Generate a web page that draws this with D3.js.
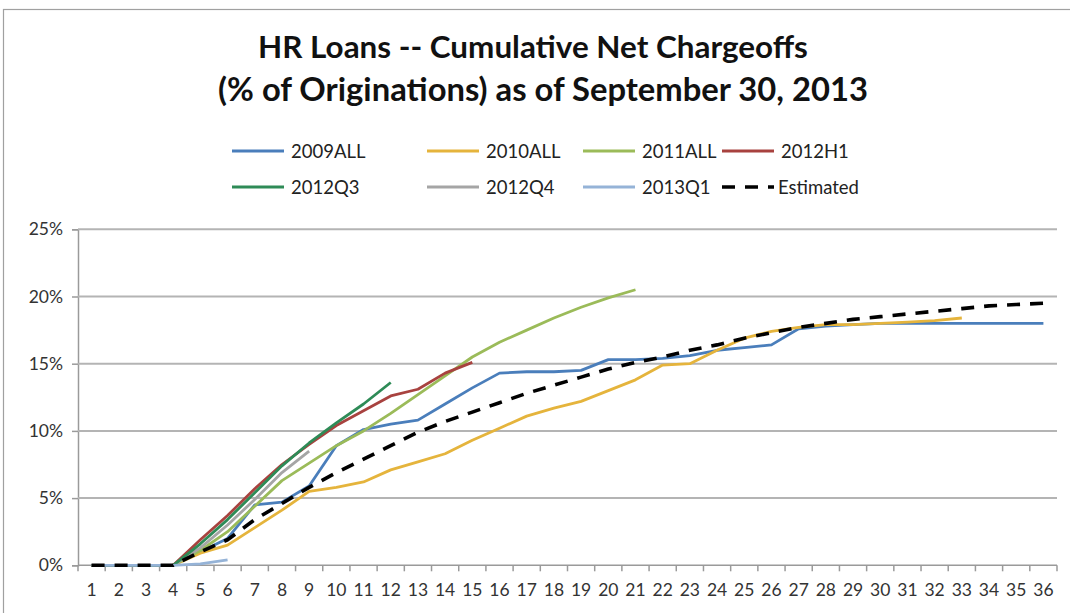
<!DOCTYPE html>
<html>
<head>
<meta charset="utf-8">
<script src="https://cdn.jsdelivr.net/npm/d3@7"></script>
<style>
  html, body { margin: 0; padding: 0; background: #fff; }
  svg { display: block; }
</style>
</head>
<body>
<svg id="chart" width="1070" height="613"></svg>
<script>
// ---------- DATA ----------
const months = [1,2,3,4,5,6,7,8,9,10,11,12,13,14,15,16,17,18,19,20,21,22,23,24,25,26,27,28,29,30,31,32,33,34,35,36];
const yTicks = [0, 5, 10, 15, 20, 25];
const seriesNames = ["2009ALL", "2010ALL", "2011ALL", "2012H1", "2012Q3", "2012Q4", "2013Q1", "Estimated"];

const s2009ALL = [0,0,0,0,1.0,2.0,4.5,4.7,5.9,8.9,10.1,10.5,10.8,12.0,13.2,14.3,14.4,14.4,14.5,15.3,15.3,15.4,15.6,16.0,16.2,16.4,17.6,17.8,17.9,18.0,18.0,18.0,18.0,18.0,18.0,18.0];
const s2010ALL = [0,0,0,0,0.9,1.5,2.8,4.1,5.5,5.8,6.2,7.1,7.7,8.3,9.3,10.2,11.1,11.7,12.2,13.0,13.8,14.9,15.0,16.0,16.9,17.4,17.7,17.9,17.9,18.0,18.1,18.2,18.4];
const s2011ALL = [0,0,0,0,1.1,2.5,4.4,6.3,7.6,8.9,10.0,11.3,12.7,14.1,15.5,16.6,17.5,18.4,19.2,19.9,20.5];
const s2012H1  = [0,0,0,0,1.9,3.7,5.7,7.5,9.0,10.4,11.5,12.6,13.1,14.3,15.1];
const s2012Q3  = [0,0,0,0,1.6,3.4,5.4,7.4,9.1,10.6,12.0,13.6];
const s2012Q4  = [0,0,0,0,1.3,3.0,4.9,6.9,8.5];
const s2013Q1  = [0,0,0,0,0.1,0.4];
const estimated = [0,0,0,0,1.0,1.9,3.4,4.6,5.8,6.9,7.9,8.9,9.9,10.7,11.4,12.1,12.8,13.4,14.0,14.6,15.1,15.5,16.0,16.4,16.9,17.3,17.7,18.0,18.3,18.5,18.7,18.9,19.1,19.3,19.4,19.5];

const seriesValues = [s2009ALL, s2010ALL, s2011ALL, s2012H1, s2012Q3, s2012Q4, s2013Q1, estimated];
const seriesColors = ["#4a7ebb", "#e5b43c", "#9bbb59", "#a8423f", "#2e8b57", "#a5a5a5", "#95b3d7", "#000000"];

// ---------- LAYOUT ----------
const svg = d3.select("#chart");
const W = 1070, H = 613;
const plot = { left: 78, right: 1057, top: 229.3, bottom: 565.3 };
const FONT = "Lato, 'Open Sans', 'Liberation Sans', sans-serif";

svg.append("rect").attr("x", 0).attr("y", 0).attr("width", W).attr("height", H).attr("fill", "#fff");
// outer chart border (right and bottom edges fall outside the picture)
svg.append("rect").attr("x", 3.5).attr("y", 9.5).attr("width", W + 10).attr("height", H + 10)
  .attr("fill", "none").attr("stroke", "#a0a0a0").attr("stroke-width", 1.2);

const x = d3.scaleBand().domain(months.map(String)).range([plot.left, plot.right]).paddingInner(0).paddingOuter(0);
const y = d3.scaleLinear().domain([0, 25]).range([plot.bottom, plot.top]);
const cx = m => x(String(m)) + x.bandwidth() / 2;

// ---------- TITLE ----------
function fitText(sel, target, base) {
  const w = sel.node().getComputedTextLength();
  sel.attr("font-size", base * target / w);
}
const t1 = svg.append("text").attr("x", 533).attr("y", 58).attr("text-anchor", "middle")
  .attr("font-family", FONT).attr("font-weight", "bold").attr("font-size", 28).attr("fill", "#111")
  .text("HR Loans -- Cumulative Net Chargeoffs");
fitText(t1, 550, 28);
const t2 = svg.append("text").attr("x", 543).attr("y", 101).attr("text-anchor", "middle")
  .attr("font-family", FONT).attr("font-weight", "bold").attr("font-size", 28).attr("fill", "#111")
  .text("(% of Originations) as of September 30, 2013");
fitText(t2, 650, 28);

// ---------- GRID + AXES ----------
const yAxis = d3.axisLeft(y).tickValues(yTicks).tickFormat(d => d + "%").tickSize(6).tickPadding(9);
const gy = svg.append("g").attr("transform", `translate(${plot.left},0)`).call(yAxis);
gy.select(".domain").attr("stroke", "#9a9a9a").attr("stroke-width", 1.5);
gy.selectAll(".tick line").attr("stroke", "#9a9a9a").attr("stroke-width", 1.5);
gy.selectAll(".tick text").attr("font-family", FONT).attr("font-size", 17.5).attr("fill", "#333");

// horizontal gridlines
svg.append("g").selectAll("line").data(yTicks.filter(d => d > 0)).join("line")
  .attr("x1", plot.left).attr("x2", plot.right)
  .attr("y1", d => y(d)).attr("y2", d => y(d))
  .attr("stroke", "#b4b4b4").attr("stroke-width", 2);

// x axis: ticks at band boundaries
const xAxisG = svg.append("g").attr("transform", `translate(0,${plot.bottom})`);
xAxisG.append("line").attr("x1", plot.left).attr("x2", plot.right).attr("y1", 0).attr("y2", 0)
  .attr("stroke", "#9a9a9a").attr("stroke-width", 1.5);
const boundaries = months.map(m => x(String(m))).concat([plot.right]);
xAxisG.selectAll("line.tk").data(boundaries).join("line").attr("class", "tk")
  .attr("x1", d => d).attr("x2", d => d).attr("y1", 0).attr("y2", 6)
  .attr("stroke", "#9a9a9a").attr("stroke-width", 1.5);
xAxisG.selectAll("text").data(months).join("text")
  .attr("x", d => cx(d)).attr("y", 31).attr("text-anchor", "middle")
  .attr("font-family", FONT).attr("font-size", 17.5).attr("fill", "#333")
  .text(d => d);

// ---------- LINES ----------
const line = d3.line().x((d, i) => cx(months[i])).y(d => y(d));
const order = [0, 1, 2, 5, 3, 4, 6, 7];
order.forEach(k => {
  const isEst = seriesNames[k] === "Estimated";
  svg.append("path").datum(seriesValues[k])
    .attr("d", line)
    .attr("fill", "none")
    .attr("stroke", seriesColors[k])
    .attr("stroke-width", isEst ? 3.6 : 2.8)
    .attr("stroke-dasharray", isEst ? "13,10" : null)
    .attr("stroke-linejoin", "round");
});

// ---------- LEGEND ----------
const legCols = [232, 427, 583, 722];
const legRows = [151, 187];
seriesNames.forEach((name, i) => {
  const col = i % 4, row = Math.floor(i / 4);
  const lx = legCols[col], ly = legRows[row];
  const isEst = name === "Estimated";
  const g = svg.append("g");
  g.append("line").attr("x1", lx).attr("x2", lx + 52).attr("y1", ly).attr("y2", ly)
    .attr("stroke", seriesColors[i]).attr("stroke-width", isEst ? 3.6 : 2.8)
    .attr("stroke-dasharray", isEst ? "13,10" : null);
  g.append("text").attr("x", lx + (isEst ? 56 : 59)).attr("y", ly + 6.5)
    .attr("font-family", FONT).attr("font-size", 18.5).attr("fill", "#222")
    .text(name);
});
</script>
</body>
</html>
